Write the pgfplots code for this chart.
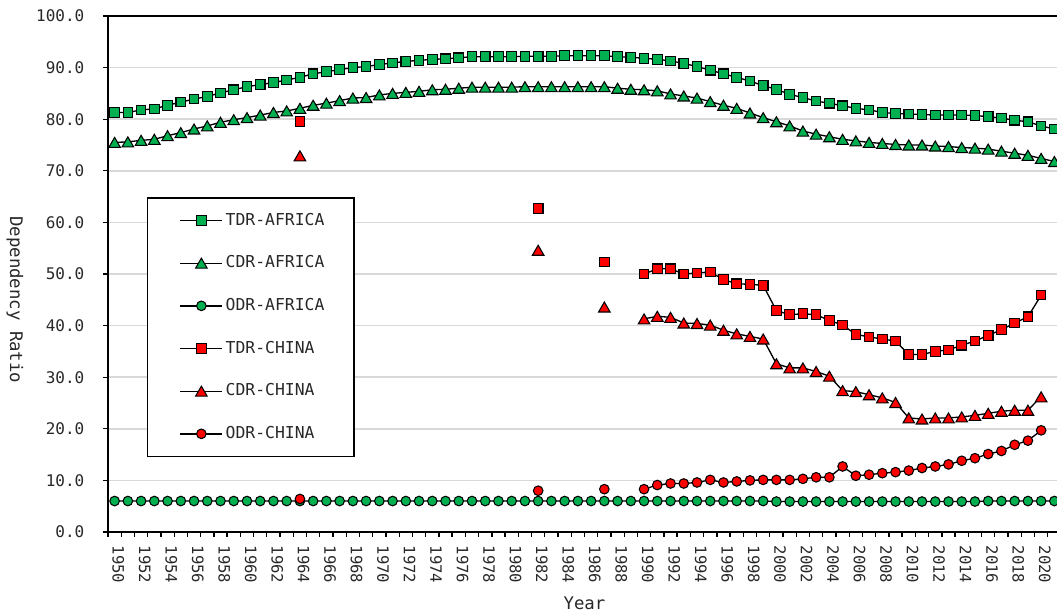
\documentclass[border=0pt]{standalone}
\usepackage{pgfplots}
\pgfplotsset{compat=1.18}
\usepackage{pgfplotstable}
\usepackage{fontspec}
\setmainfont{DejaVu Sans Mono}
\definecolor{xgreen}{RGB}{0,176,80}
\definecolor{xred}{RGB}{255,0,0}
\definecolor{xgrid}{RGB}{217,217,217}
\definecolor{xtext}{RGB}{40,40,40}

\pgfplotstableread{
year val
1950 81.3
1951 81.3
1952 81.8
1953 82.0
1954 82.7
1955 83.3
1956 83.9
1957 84.4
1958 85.1
1959 85.7
1960 86.3
1961 86.7
1962 87.1
1963 87.6
1964 88.1
1965 88.8
1966 89.2
1967 89.6
1968 90.0
1969 90.2
1970 90.6
1971 90.9
1972 91.2
1973 91.4
1974 91.6
1975 91.7
1976 91.9
1977 92.1
1978 92.1
1979 92.1
1980 92.1
1981 92.2
1982 92.2
1983 92.2
1984 92.3
1985 92.3
1986 92.3
1987 92.3
1988 92.1
1989 92.0
1990 91.8
1991 91.6
1992 91.3
1993 90.8
1994 90.2
1995 89.5
1996 88.8
1997 88.1
1998 87.4
1999 86.5
2000 85.8
2001 84.8
2002 84.2
2003 83.5
2004 83.1
2005 82.6
2006 82.1
2007 81.8
2008 81.3
2009 81.1
2010 81.0
2011 80.9
2012 80.8
2013 80.8
2014 80.8
2015 80.7
2016 80.5
2017 80.2
2018 79.8
2019 79.5
2020 78.7
2021 78.1
}\tdrA

\pgfplotstableread{
year val
1950 75.5
1951 75.6
1952 75.9
1953 76.1
1954 76.8
1955 77.4
1956 78.1
1957 78.7
1958 79.4
1959 79.9
1960 80.3
1961 80.8
1962 81.3
1963 81.6
1964 82.1
1965 82.7
1966 83.1
1967 83.6
1968 84.1
1969 84.2
1970 84.7
1971 85.0
1972 85.2
1973 85.4
1974 85.7
1975 85.8
1976 86.0
1977 86.2
1978 86.2
1979 86.2
1980 86.2
1981 86.3
1982 86.3
1983 86.3
1984 86.3
1985 86.3
1986 86.3
1987 86.3
1988 86.0
1989 85.8
1990 85.7
1991 85.5
1992 84.9
1993 84.5
1994 84.1
1995 83.4
1996 82.7
1997 82.1
1998 81.2
1999 80.3
2000 79.5
2001 78.7
2002 77.7
2003 77.1
2004 76.6
2005 76.1
2006 75.8
2007 75.5
2008 75.3
2009 75.1
2010 75.0
2011 75.0
2012 74.8
2013 74.7
2014 74.5
2015 74.4
2016 74.2
2017 73.8
2018 73.4
2019 73.0
2020 72.4
2021 71.8
}\cdrA

\pgfplotstableread{
year val
1950 6.0
1951 6.0
1952 6.0
1953 6.0
1954 6.0
1955 6.0
1956 6.0
1957 6.0
1958 6.0
1959 6.0
1960 6.0
1961 6.0
1962 6.0
1963 6.0
1964 6.0
1965 6.0
1966 6.0
1967 6.0
1968 6.0
1969 6.0
1970 6.0
1971 6.0
1972 6.0
1973 6.0
1974 6.0
1975 6.0
1976 6.0
1977 6.0
1978 6.0
1979 6.0
1980 6.0
1981 6.0
1982 6.0
1983 6.0
1984 6.0
1985 6.0
1986 6.0
1987 6.0
1988 6.0
1989 6.0
1990 6.0
1991 6.0
1992 6.0
1993 6.0
1994 6.0
1995 6.0
1996 6.0
1997 6.0
1998 6.0
1999 6.0
2000 5.9
2001 5.9
2002 5.9
2003 5.9
2004 5.9
2005 5.9
2006 5.9
2007 5.9
2008 5.9
2009 5.9
2010 5.9
2011 5.9
2012 5.9
2013 5.9
2014 5.9
2015 5.9
2016 6.0
2017 6.0
2018 6.0
2019 6.0
2020 6.0
2021 6.0
}\odrA

\pgfplotstableread{
year val
1964 79.6
1965 nan
1982 62.7
1983 nan
1987 52.3
1988 nan
1990 50.0
1991 51.0
1992 51.0
1993 50.0
1994 50.2
1995 50.4
1996 48.9
1997 48.1
1998 48.0
1999 47.8
2000 42.9
2001 42.1
2002 42.3
2003 42.1
2004 41.0
2005 40.1
2006 38.3
2007 37.8
2008 37.4
2009 37.0
2010 34.4
2011 34.4
2012 35.0
2013 35.3
2014 36.2
2015 37.0
2016 38.1
2017 39.2
2018 40.5
2019 41.7
2020 45.9
}\tdrC

\pgfplotstableread{
year val
1964 72.9
1965 nan
1982 54.6
1983 nan
1987 43.6
1988 nan
1990 41.3
1991 41.8
1992 41.6
1993 40.5
1994 40.4
1995 40.1
1996 39.1
1997 38.4
1998 37.9
1999 37.4
2000 32.6
2001 31.8
2002 31.8
2003 31.1
2004 30.2
2005 27.4
2006 27.2
2007 26.6
2008 26.0
2009 25.1
2010 22.1
2011 21.9
2012 22.1
2013 22.1
2014 22.3
2015 22.6
2016 23.0
2017 23.4
2018 23.6
2019 23.6
2020 26.2
}\cdrC

\pgfplotstableread{
year val
1964 6.4
1965 nan
1982 8.0
1983 nan
1987 8.3
1988 nan
1990 8.3
1991 9.1
1992 9.4
1993 9.4
1994 9.6
1995 10.1
1996 9.6
1997 9.8
1998 10.0
1999 10.1
2000 10.1
2001 10.1
2002 10.3
2003 10.6
2004 10.6
2005 12.7
2006 10.9
2007 11.1
2008 11.4
2009 11.6
2010 11.9
2011 12.4
2012 12.7
2013 13.1
2014 13.8
2015 14.3
2016 15.1
2017 15.7
2018 16.9
2019 17.7
2020 19.7
}\odrC

\pgfplotsset{
  ser/.style={black, line width=1pt},
  sq/.style={ser, mark=square*, mark size=3.6pt, mark options={draw=black, fill=#1, line width=0.8pt, solid}},
  tri/.style={ser, mark=triangle*, mark size=5pt, mark options={draw=black, fill=#1, line width=0.8pt, solid, yshift=-1.25pt}},
  cir/.style={ser, mark=*, mark size=3.6pt, mark options={draw=black, fill=#1, line width=0.8pt, solid}},
}

\begin{document}
\begin{tikzpicture}
\begin{axis}[
  at={(0,0)}, anchor=south west,
  scale only axis, width=714.75pt, height=387pt,
  xmin=1949.5, xmax=2021.5, ymin=0, ymax=100,
  xtick={1950,1952,...,2020},
  minor xtick={1949.5,1950.5,...,2021.5},
  ytick={0,10,...,100},
  tick pos=left, tick align=outside,
  major tick length=3.75pt, minor tick length=3.75pt,
  major x tick style={draw=none},
  every tick/.style={black, line width=1pt},
  minor x tick style={black, line width=1pt},
  axis line style={black, line width=1.5pt},
  ymajorgrids, major grid style={xgrid, line width=1.1pt},
  unbounded coords=jump,
  /pgf/number format/assume math mode=true,
  yticklabel style={font=\fontsize{12}{14}\selectfont, text=xtext, xshift=-10.5pt,
     /pgf/number format/.cd, fixed, fixed zerofill, precision=1},
  xticklabel style={font=\fontsize{11.7}{14}\selectfont, text=xtext, xshift=2.8pt, yshift=-3pt, rotate=-90, anchor=west,
     /pgf/number format/.cd, set thousands separator={}},
  xlabel={Year}, ylabel={Dependency Ratio},
  xlabel style={font=\fontsize{13}{15}\selectfont, text=xtext, at={(axis description cs:0.5,-0.1376)}, anchor=center},
  ylabel style={font=\fontsize{13}{15}\selectfont, text=xtext, at={(axis description cs:-0.0976,0.45)}, anchor=center, rotate=180},
  legend style={at={(axis description cs:0.0409,0.649)}, anchor=north west,
     draw=black, line width=1.1pt, fill=white,
     font=\fontsize{12.3}{14}\selectfont, text=xtext,
     inner xsep=20pt, inner ysep=9.5pt, row sep=17pt,
     nodes={inner sep=2pt, text height=9pt, text depth=2pt}},
  legend cell align=left,
  legend image code/.code={\path (0pt,0pt); \draw[line width=1pt, mark repeat=2, mark phase=2] plot coordinates {(4pt,0pt) (19.75pt,0pt) (35.5pt,0pt)};},
]
\addplot[sq=xgreen] table {\tdrA};
\addlegendentry{TDR-AFRICA}
\addplot[tri=xgreen] table {\cdrA};
\addlegendentry{CDR-AFRICA}
\addplot[cir=xgreen] table {\odrA};
\addlegendentry{ODR-AFRICA}
\addplot[sq=xred] table {\tdrC};
\addlegendentry{TDR-CHINA}
\addplot[tri=xred] table {\cdrC};
\addlegendentry{CDR-CHINA}
\addplot[cir=xred] table {\odrC};
\addlegendentry{ODR-CHINA}
\end{axis}
\pgfresetboundingbox
\path[use as bounding box] (-81pt,-63pt) rectangle (711.75pt,399pt);
\end{tikzpicture}
\end{document}
